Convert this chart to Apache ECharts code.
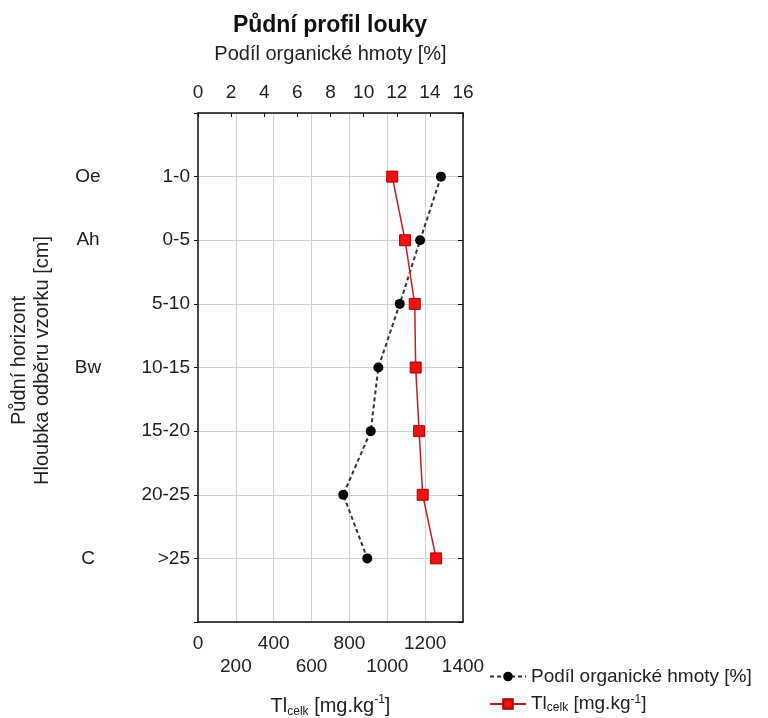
<!DOCTYPE html>
<html>
<head>
<meta charset="utf-8">
<script src="https://cdn.jsdelivr.net/npm/echarts@6/dist/echarts.min.js"></script>
<style>html,body{margin:0;padding:0;background:#fff;}#c{width:768px;height:718px;}</style>
</head>
<body>
<div id="c"></div>
<script>
const depths = ['1-0', '0-5', '5-10', '10-15', '15-20', '20-25', '>25'];
const horizons = ['Oe', 'Ah', '', 'Bw', '', '', 'C'];
const organic = [14.67, 13.41, 12.18, 10.89, 10.43, 8.77, 10.22];
const thallium = [1026, 1094, 1145, 1150, 1168, 1187, 1258];
const organicTicks = [0, 16, 2];
const tlTicks = [0, 1400, 200];

const FONT = '"Liberation Sans", Arial, sans-serif';
const TXT = '#222';
const chart = echarts.init(document.getElementById('c'), null, {renderer: 'canvas'});
function unitRich(fs, lh) {
  return {
    a: {fontFamily: FONT, fontSize: fs, color: TXT, lineHeight: lh},
    sub: {fontFamily: FONT, fontSize: 12, color: TXT, lineHeight: 12, verticalAlign: 'bottom'},
    sup: {fontFamily: FONT, fontSize: 12, color: TXT, lineHeight: 12, verticalAlign: 'top'}
  };
}
const tlName = '{a|Tl}{sub|celk}{a| [mg.kg}{sup|-1}{a|]}';
function isOddStep(v) { return Math.round(v / tlTicks[2]) % 2 === 1; }

chart.setOption({
  animation: false,
  backgroundColor: '#fff',
  textStyle: {fontFamily: FONT},
  title: {
    text: 'Půdní profil louky',
    left: 330, top: 14, padding: 0, textAlign: 'center',
    textStyle: {fontFamily: FONT, fontSize: 23, fontWeight: 'bold', color: '#111'}
  },
  grid: {left: 198, right: 305, top: 113, bottom: 96, containLabel: false, outerBoundsMode: 'none'},
  legend: {
    orient: 'vertical', left: 489, top: 667, itemGap: 8,
    itemWidth: 36, itemHeight: 12, padding: 0,
    data: ['org', 'tl'],
    formatter: function (n) { return n === 'org' ? '{a|Podíl organické hmoty [%]}' : tlName; },
    textStyle: {rich: unitRich(19, 20)}
  },
  xAxis: [
    {
      type: 'value', position: 'bottom',
      min: tlTicks[0], max: tlTicks[1], interval: tlTicks[2],
      name: tlName, nameLocation: 'middle', nameGap: 72,
      nameTextStyle: {rich: unitRich(20, 24)},
      axisLine: {show: true, onZero: false, lineStyle: {color: '#111', width: 1.5}},
      axisTick: {show: false},
      splitLine: {show: true, lineStyle: {color: '#d2d2d2', width: 1}},
      axisLabel: {
        interval: 0, margin: 12, color: TXT, fontFamily: FONT, fontSize: 19,
        showMinLabel: true, showMaxLabel: true, hideOverlap: false,
        formatter: function (v) { return isOddStep(v) ? '' : String(v); }
      }
    },
    {
      type: 'value', position: 'top',
      min: organicTicks[0], max: organicTicks[1], interval: organicTicks[2],
      name: 'Podíl organické hmoty [%]', nameLocation: 'middle', nameGap: 49,
      nameTextStyle: {fontFamily: FONT, fontSize: 20, color: TXT},
      axisLine: {show: true, onZero: false, lineStyle: {color: '#111', width: 1.5}},
      axisTick: {show: true, inside: true, length: 4, lineStyle: {color: '#111'}},
      splitLine: {show: false},
      axisLabel: {margin: 11, color: TXT, fontFamily: FONT, fontSize: 19, showMinLabel: true, showMaxLabel: true, hideOverlap: false}
    },
    {
      type: 'value', position: 'bottom', offset: 23,
      min: tlTicks[0], max: tlTicks[1], interval: tlTicks[2],
      axisLine: {show: false, onZero: false},
      axisTick: {show: false},
      splitLine: {show: false},
      axisLabel: {
        interval: 0, margin: 12, color: TXT, fontFamily: FONT, fontSize: 19,
        showMinLabel: true, showMaxLabel: true, hideOverlap: false,
        formatter: function (v) { return isOddStep(v) ? String(v) : ''; }
      }
    }
  ],
  yAxis: [
    {
      type: 'value', position: 'left', inverse: true, min: 0, max: 8, interval: 1,
      name: 'Půdní horizont\nHloubka odběru vzorku [cm]',
      nameLocation: 'middle', nameRotate: 90, nameGap: 144,
      nameTextStyle: {fontFamily: FONT, fontSize: 20, color: TXT, lineHeight: 23, padding: [0, 0, 0, 14]},
      axisLine: {show: true, onZero: false, lineStyle: {color: '#111', width: 1.5}},
      axisTick: {show: true, length: 4, lineStyle: {color: '#111'}},
      splitLine: {show: true, lineStyle: {color: '#d2d2d2', width: 1}},
      axisLabel: {
        margin: 8, color: TXT,
        formatter: function (v) {
          if (v < 1 || v > depths.length) return '';
          return '{h|' + (horizons[v - 1] || ' ') + '}{d|' + depths[v - 1] + '}';
        },
        rich: {
          h: {fontFamily: FONT, fontSize: 19, color: TXT, width: 84, align: 'center'},
          d: {fontFamily: FONT, fontSize: 19, color: TXT, width: 60, align: 'right'}
        }
      }
    },
    {
      type: 'value', position: 'right', inverse: true, min: 0, max: 8, interval: 1,
      axisLine: {show: true, onZero: false, lineStyle: {color: '#111', width: 1.5}},
      axisTick: {show: true, inside: true, length: 5, lineStyle: {color: '#111'}},
      axisLabel: {show: false},
      splitLine: {show: false}
    }
  ],
  series: [
    {
      name: 'org', type: 'line', xAxisIndex: 1, yAxisIndex: 0,
      data: organic.map(function (v, i) { return [v, i + 1]; }),
      symbol: 'circle', symbolSize: 10,
      lineStyle: {color: '#333', width: 2, type: [4, 3]},
      itemStyle: {color: '#000'},
      z: 3
    },
    {
      name: 'tl', type: 'line', xAxisIndex: 0, yAxisIndex: 0,
      data: thallium.map(function (v, i) { return [v, i + 1]; }),
      symbol: 'rect', symbolSize: 11,
      lineStyle: {color: '#c81e1e', width: 1.5, type: 'solid'},
      itemStyle: {color: '#ee1111', borderColor: '#b00000', borderWidth: 1},
      z: 4
    }
  ]
});
</script>
</body>
</html>
